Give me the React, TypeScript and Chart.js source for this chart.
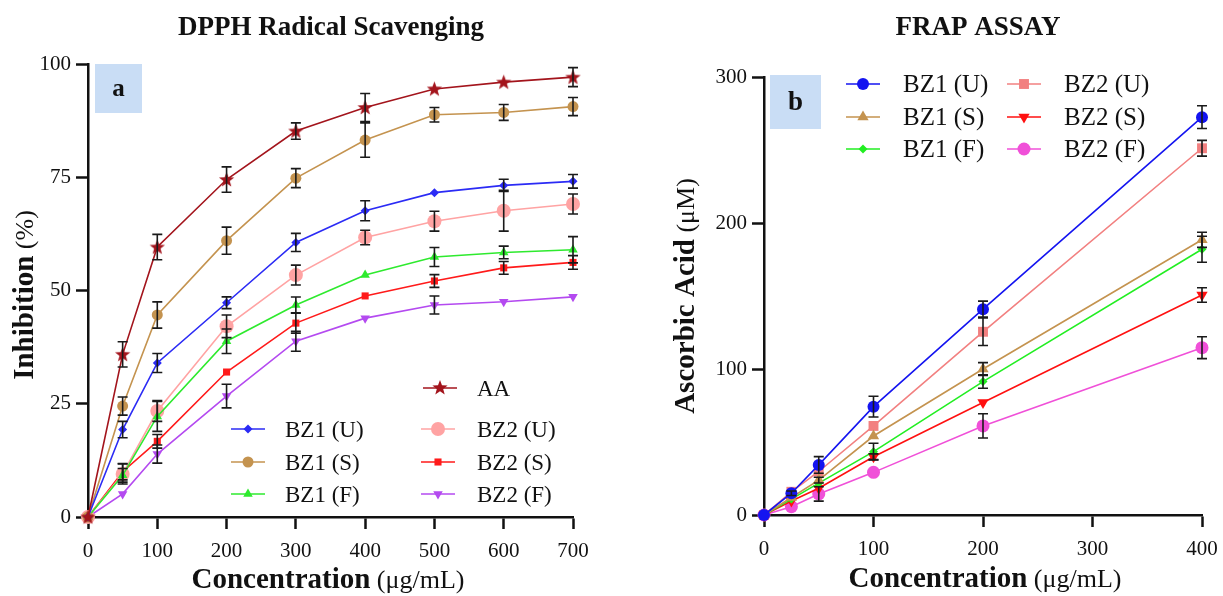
import React, { useEffect, useRef } from "react";
import { Chart, registerables } from "chart.js";
Chart.register(...registerables);

const SERIF = "'Liberation Serif', 'Times New Roman', serif";

// ---------- DPPH data ----------
const dpphConc = [0, 50, 100, 200, 300, 400, 500, 600, 700];
const dpphNames = ["AA", "BZ1 (U)", "BZ1 (S)", "BZ1 (F)", "BZ2 (U)", "BZ2 (S)", "BZ2 (F)"];
const dpphAA = [0, 35.9, 59.6, 74.5, 85.2, 90.4, 94.5, 96.0, 97.1];
const dpphAAErr = [0, 2.8, 2.8, 2.8, 1.8, 3.1, 0, 0, 2.1];
const dpphBZ1U = [0, 19.3, 34.0, 47.3, 60.6, 67.6, 71.6, 73.2, 74.1];
const dpphBZ1UErr = [0, 1.8, 2.1, 1.3, 2.0, 2.2, 0, 1.35, 1.5];
const dpphBZ1S = [0, 24.5, 44.6, 61.0, 74.8, 83.2, 88.8, 89.3, 90.6];
const dpphBZ1SErr = [0, 2.0, 2.9, 3.0, 2.1, 3.8, 1.6, 1.75, 2.0];
const dpphBZ1F = [0, 9.2, 22.2, 38.8, 46.8, 53.4, 57.4, 58.4, 59.0];
const dpphBZ1FErr = [0, 1.5, 3.3, 2.7, 1.75, 0, 2.1, 1.4, 2.9];
const dpphBZ2U = [0, 9.5, 23.4, 42.1, 53.4, 61.7, 65.3, 67.6, 69.1];
const dpphBZ2UErr = [0, 2.2, 2.3, 2.5, 2.2, 1.6, 2.2, 4.5, 2.2];
const dpphBZ2S = [0, 10.0, 16.7, 32.0, 42.8, 48.8, 52.1, 55.0, 56.2];
const dpphBZ2SErr = [0, 1.8, 1.5, 0, 2.2, 0, 1.4, 1.4, 1.5];
const dpphBZ2F = [0, 5.1, 13.9, 26.7, 38.8, 43.9, 46.8, 47.5, 48.6];
const dpphBZ2FErr = [0, 0, 2.0, 2.6, 2.2, 0, 2.0, 0, 0];
const dpphXTicks = [0, 100, 200, 300, 400, 500, 600, 700];
const dpphYTicks = [0, 25, 50, 75, 100];

// ---------- FRAP data ----------
const frapConc = [0, 25, 50, 100, 200, 400];
const frapNames = ["BZ1 (U)", "BZ1 (S)", "BZ1 (F)", "BZ2 (U)", "BZ2 (S)", "BZ2 (F)"];
const frapBZ1U = [0, 14.9, 34.3, 74.2, 141.0, 272.5];
const frapBZ1UErr = [0, 1.5, 5.7, 7.1, 5.5, 7.8];
const frapBZ1S = [0, 12.0, 23.9, 54.1, 100.0, 188.5];
const frapBZ1SErr = [0, 0, 2.0, 0, 4.4, 5.2];
const frapBZ1F = [0, 10.9, 21.8, 43.4, 91.4, 182.0];
const frapBZ1FErr = [0, 0, 0, 5.7, 4.6, 8.9];
const frapBZ2U = [0, 15.9, 29.8, 61.0, 125.5, 251.2];
const frapBZ2UErr = [0, 0, 0, 0, 9.4, 5.4];
const frapBZ2S = [0, 9.6, 18.3, 39.9, 77.0, 150.7];
const frapBZ2SErr = [0, 0, 0, 2.0, 0, 5.0];
const frapBZ2F = [0, 5.7, 14.4, 29.2, 61.0, 114.6];
const frapBZ2FErr = [0, 0, 4.9, 0, 8.3, 7.5];
const frapXTicks = [0, 100, 200, 300, 400];
const frapYTicks = [0, 100, 200, 300];

// ---------- drawing helpers ----------
function starPath(ctx: CanvasRenderingContext2D, cx: number, cy: number, R: number, r: number) {
  ctx.beginPath();
  for (let i = 0; i < 10; i++) {
    const ang = -Math.PI / 2 + (i * Math.PI) / 5;
    const rad = i % 2 === 0 ? R : r;
    const x = cx + rad * Math.cos(ang);
    const y = cy + rad * Math.sin(ang);
    if (i === 0) ctx.moveTo(x, y);
    else ctx.lineTo(x, y);
  }
  ctx.closePath();
}

function makeStar(color: string, size: number) {
  const c = document.createElement("canvas");
  c.width = size;
  c.height = size;
  const ctx = c.getContext("2d")!;
  starPath(ctx, size / 2, size / 2 + 0.5, size / 2 - 0.5, (size / 2 - 0.5) * 0.42);
  ctx.fillStyle = color;
  ctx.fill();
  return c;
}

function drawMarker(
  ctx: CanvasRenderingContext2D,
  style: string,
  x: number,
  y: number,
  r: number,
  color: string,
  rot: number
) {
  ctx.save();
  ctx.fillStyle = color;
  ctx.beginPath();
  if (style === "circle") {
    ctx.arc(x, y, r, 0, Math.PI * 2);
  } else if (style === "rect") {
    const s = Math.SQRT1_2 * r;
    ctx.rect(x - s, y - s, 2 * s, 2 * s);
  } else if (style === "rectRot") {
    ctx.moveTo(x, y - r);
    ctx.lineTo(x + r, y);
    ctx.lineTo(x, y + r);
    ctx.lineTo(x - r, y);
    ctx.closePath();
  } else if (style === "triangle") {
    let a = (rot * Math.PI) / 180;
    ctx.moveTo(x + Math.sin(a) * r, y - Math.cos(a) * r);
    for (let k = 0; k < 2; k++) {
      a += (2 * Math.PI) / 3;
      ctx.lineTo(x + Math.sin(a) * r, y - Math.cos(a) * r);
    }
    ctx.closePath();
  } else if (style === "star") {
    starPath(ctx, x, y, r, r * 0.42);
  }
  ctx.fill();
  ctx.restore();
}

function drawMixed(
  ctx: CanvasRenderingContext2D,
  parts: { t: string; f: string }[],
  cx: number,
  base: number,
  rotate: boolean
) {
  ctx.save();
  if (rotate) {
    ctx.translate(base, cx);
    ctx.rotate(-Math.PI / 2);
  } else {
    ctx.translate(cx, base);
  }
  let total = 0;
  const ws = parts.map((p) => {
    ctx.font = p.f;
    const w = ctx.measureText(p.t).width;
    total += w;
    return w;
  });
  let x = -total / 2;
  ctx.textAlign = "left";
  ctx.textBaseline = "alphabetic";
  ctx.fillStyle = "#111";
  parts.forEach((p, i) => {
    ctx.font = p.f;
    ctx.fillText(p.t, x, 0);
    x += ws[i];
  });
  ctx.restore();
}

type Series = {
  label: string;
  values: number[];
  errors: number[];
  color: string;
  style: string;
  radius: number;
  rot: number;
};

type Deco = {
  title: string;
  titleX: number;
  titleFont: string;
  xTitle: { t: string; f: string }[];
  xTitleX: number;
  xTitleY: number;
  yTitle: { t: string; f: string }[];
  yTitleX: number;
  yTitleY: number;
  box: [number, number, number, number];
  boxLetter: string;
  boxFont: string;
  legend: { i: number; x: number; y: number; tx: number }[];
  legendFont: number;
};

function buildConfig(
  conc: number[],
  series: Series[],
  deco: Deco,
  xMax: number,
  yMax: number,
  xStep: number,
  yStep: number,
  area: { left: number; right: number; top: number; bottom: number },
  size: { w: number; h: number }
): any {
  const starImg = makeStar("#A3141C", 17);
  const datasets = series.map((s) => ({
    label: s.label,
    data: conc.map((c, j) => ({ x: c, y: s.values[j] })),
    borderColor: s.color,
    backgroundColor: s.color,
    borderWidth: 1.6,
    pointStyle: s.style === "star" ? starImg : s.style,
    pointRadius: s.radius,
    pointRotation: s.rot,
    pointBorderWidth: 0,
    pointBackgroundColor: s.color,
    tension: 0,
    clip: false,
    errors: s.errors,
  }));

  const errorPlugin = {
    id: "errorBars",
    afterDatasetsDraw(chart: any) {
      const ctx = chart.ctx as CanvasRenderingContext2D;
      const xs = chart.scales.x;
      const ys = chart.scales.y;
      ctx.save();
      ctx.strokeStyle = "#1a1a1a";
      ctx.lineWidth = 1.6;
      chart.data.datasets.forEach((ds: any) => {
        ds.data.forEach((pt: any, j: number) => {
          const e = ds.errors[j];
          if (!e) return;
          const px = xs.getPixelForValue(pt.x);
          const y1 = ys.getPixelForValue(pt.y + e);
          const y2 = ys.getPixelForValue(pt.y - e);
          ctx.beginPath();
          ctx.moveTo(px, y1);
          ctx.lineTo(px, y2);
          ctx.moveTo(px - 5, y1);
          ctx.lineTo(px + 5, y1);
          ctx.moveTo(px - 5, y2);
          ctx.lineTo(px + 5, y2);
          ctx.stroke();
        });
      });
      ctx.restore();
    },
  };

  const decoPlugin = {
    id: "deco",
    beforeDatasetsDraw(chart: any) {
      const ctx = chart.ctx as CanvasRenderingContext2D;
      const [bx, by, bw, bh] = deco.box;
      ctx.save();
      ctx.fillStyle = "#C9DDF5";
      ctx.fillRect(bx, by, bw, bh);
      ctx.fillStyle = "#111";
      ctx.font = deco.boxFont;
      ctx.textAlign = "center";
      ctx.textBaseline = "middle";
      ctx.fillText(deco.boxLetter, bx + bw / 2, by + bh / 2 + 1);
      ctx.restore();
    },
    afterDraw(chart: any) {
      const ctx = chart.ctx as CanvasRenderingContext2D;
      ctx.save();
      ctx.fillStyle = "#111";
      ctx.font = deco.titleFont;
      ctx.textAlign = "center";
      ctx.textBaseline = "alphabetic";
      ctx.fillText(deco.title, deco.titleX, 35);
      ctx.restore();
      drawMixed(ctx, deco.xTitle, deco.xTitleX, deco.xTitleY, false);
      drawMixed(ctx, deco.yTitle, deco.yTitleY, deco.yTitleX, true);
      // legend
      deco.legend.forEach((it) => {
        const s = series[it.i];
        ctx.save();
        ctx.strokeStyle = s.color;
        ctx.lineWidth = 1.6;
        ctx.beginPath();
        ctx.moveTo(it.x - 17, it.y);
        ctx.lineTo(it.x + 17, it.y);
        ctx.stroke();
        ctx.restore();
        drawMarker(ctx, s.style, it.x, it.y, s.style === "star" ? 8 : s.radius, s.style === "star" ? "#A3141C" : s.color, s.rot);
        ctx.save();
        ctx.fillStyle = "#111";
        ctx.font = `${deco.legendFont}px ${SERIF}`;
        ctx.textAlign = "left";
        ctx.textBaseline = "alphabetic";
        ctx.fillText(s.label, it.tx, it.y + deco.legendFont * 0.33);
        ctx.restore();
      });
    },
  };

  const axisCommon = (isX: boolean, max: number, step: number) => ({
    type: "linear",
    min: 0,
    max,
    ticks: {
      stepSize: step,
      color: "#111",
      font: { family: SERIF, size: 21 },
      padding: isX ? 10 : 5,
    },
    grid: {
      display: true,
      drawOnChartArea: false,
      drawTicks: true,
      tickLength: 12,
      tickWidth: 2.5,
      tickColor: "#111",
    },
    border: { display: true, color: "#111", width: 2.5 },
    afterFit: (scale: any) => {
      if (isX) scale.height = size.h - area.bottom;
      else scale.width = area.left;
    },
  });

  return {
    type: "line",
    data: { datasets },
    options: {
      responsive: false,
      animation: false,
      layout: {
        padding: { left: 0, top: area.top, right: size.w - area.right, bottom: 0 },
      },
      plugins: { legend: { display: false }, tooltip: { enabled: false }, title: { display: false } },
      scales: {
        x: axisCommon(true, xMax, xStep),
        y: axisCommon(false, yMax, yStep),
      },
    },
    plugins: [decoPlugin, errorPlugin],
  };
}

function ChartCanvas({ left, w, h, build }: { left: number; w: number; h: number; build: () => any }) {
  const ref = useRef<HTMLCanvasElement>(null);
  useEffect(() => {
    const chart = new Chart(ref.current!, build());
    return () => chart.destroy();
  }, []);
  return (
    <div style={{ position: "absolute", left, top: 0, width: w, height: h }}>
      <canvas ref={ref} width={w} height={h} style={{ width: w, height: h, display: "block" }} />
    </div>
  );
}

const boldT = (s: number) => `bold ${s}px ${SERIF}`;
const normT = (s: number) => `${s}px ${SERIF}`;

function buildDPPH() {
  const series: Series[] = [
    { label: dpphNames[0], values: dpphAA, errors: dpphAAErr, color: "#A3141C", style: "star", radius: 8, rot: 0 },
    { label: dpphNames[1], values: dpphBZ1U, errors: dpphBZ1UErr, color: "#2B2BF5", style: "rectRot", radius: 4.5, rot: 0 },
    { label: dpphNames[2], values: dpphBZ1S, errors: dpphBZ1SErr, color: "#C4934F", style: "circle", radius: 5.5, rot: 0 },
    { label: dpphNames[3], values: dpphBZ1F, errors: dpphBZ1FErr, color: "#2EEA2E", style: "triangle", radius: 5.5, rot: 0 },
    { label: dpphNames[4], values: dpphBZ2U, errors: dpphBZ2UErr, color: "#FFA3A3", style: "circle", radius: 7, rot: 0 },
    { label: dpphNames[5], values: dpphBZ2S, errors: dpphBZ2SErr, color: "#FF1A1A", style: "rect", radius: 5, rot: 0 },
    { label: dpphNames[6], values: dpphBZ2F, errors: dpphBZ2FErr, color: "#B44AF0", style: "triangle", radius: 5.5, rot: 180 },
  ];
  const deco: Deco = {
    title: "DPPH Radical Scavenging",
    titleX: 331,
    titleFont: boldT(27),
    xTitle: [
      { t: "Concentration", f: boldT(29) },
      { t: " (μg/mL)", f: normT(26) },
    ],
    xTitleX: 328,
    xTitleY: 588,
    yTitle: [
      { t: "Inhibition", f: boldT(29) },
      { t: " (%)", f: normT(26) },
    ],
    yTitleX: 33,
    yTitleY: 295,
    box: [95, 64, 47, 49],
    boxLetter: "a",
    boxFont: boldT(25),
    legend: [
      { i: 0, x: 440, y: 388, tx: 477 },
      { i: 1, x: 248, y: 429, tx: 285 },
      { i: 2, x: 248, y: 462, tx: 285 },
      { i: 3, x: 248, y: 494, tx: 285 },
      { i: 4, x: 438, y: 429, tx: 477 },
      { i: 5, x: 438, y: 462, tx: 477 },
      { i: 6, x: 438, y: 494, tx: 477 },
    ],
    legendFont: 23,
  };
  return buildConfig(
    dpphConc,
    series,
    deco,
    dpphXTicks[dpphXTicks.length - 1],
    dpphYTicks[dpphYTicks.length - 1],
    dpphXTicks[1] - dpphXTicks[0],
    dpphYTicks[1] - dpphYTicks[0],
    { left: 88, right: 573, top: 64, bottom: 517 },
    { w: 612, h: 596 }
  );
}

function buildFRAP() {
  const series: Series[] = [
    { label: frapNames[0], values: frapBZ1U, errors: frapBZ1UErr, color: "#1414F0", style: "circle", radius: 6, rot: 0 },
    { label: frapNames[1], values: frapBZ1S, errors: frapBZ1SErr, color: "#C4934F", style: "triangle", radius: 6.5, rot: 0 },
    { label: frapNames[2], values: frapBZ1F, errors: frapBZ1FErr, color: "#22EE22", style: "rectRot", radius: 4.5, rot: 0 },
    { label: frapNames[3], values: frapBZ2U, errors: frapBZ2UErr, color: "#F28080", style: "rect", radius: 7, rot: 0 },
    { label: frapNames[4], values: frapBZ2S, errors: frapBZ2SErr, color: "#FF1010", style: "triangle", radius: 6.5, rot: 180 },
    { label: frapNames[5], values: frapBZ2F, errors: frapBZ2FErr, color: "#F050D8", style: "circle", radius: 6.5, rot: 0 },
  ];
  const deco: Deco = {
    title: "FRAP ASSAY",
    titleX: 366,
    titleFont: boldT(27),
    xTitle: [
      { t: "Concentration", f: boldT(29) },
      { t: " (μg/mL)", f: normT(26) },
    ],
    xTitleX: 373,
    xTitleY: 587,
    yTitle: [
      { t: "Ascorbic Acid", f: boldT(29) },
      { t: " (μM)", f: normT(26) },
    ],
    yTitleX: 82,
    yTitleY: 296,
    box: [158, 75, 51, 54],
    boxLetter: "b",
    boxFont: boldT(27),
    legend: [
      { i: 0, x: 251, y: 84, tx: 291 },
      { i: 1, x: 251, y: 117, tx: 291 },
      { i: 2, x: 251, y: 149, tx: 291 },
      { i: 3, x: 412, y: 84, tx: 452 },
      { i: 4, x: 412, y: 117, tx: 452 },
      { i: 5, x: 412, y: 149, tx: 452 },
    ],
    legendFont: 25,
  };
  return buildConfig(
    frapConc,
    series,
    deco,
    frapXTicks[frapXTicks.length - 1],
    frapYTicks[frapYTicks.length - 1],
    frapXTicks[1] - frapXTicks[0],
    frapYTicks[1] - frapYTicks[0],
    { left: 152, right: 590, top: 77, bottom: 515 },
    { w: 616, h: 596 }
  );
}

export default function App() {
  return (
    <div style={{ position: "fixed", left: 0, top: 0, width: 1223, height: 596, background: "#fff", overflow: "hidden" }}>
      <ChartCanvas left={0} w={612} h={596} build={buildDPPH} />
      <ChartCanvas left={612} w={616} h={596} build={buildFRAP} />
    </div>
  );
}
